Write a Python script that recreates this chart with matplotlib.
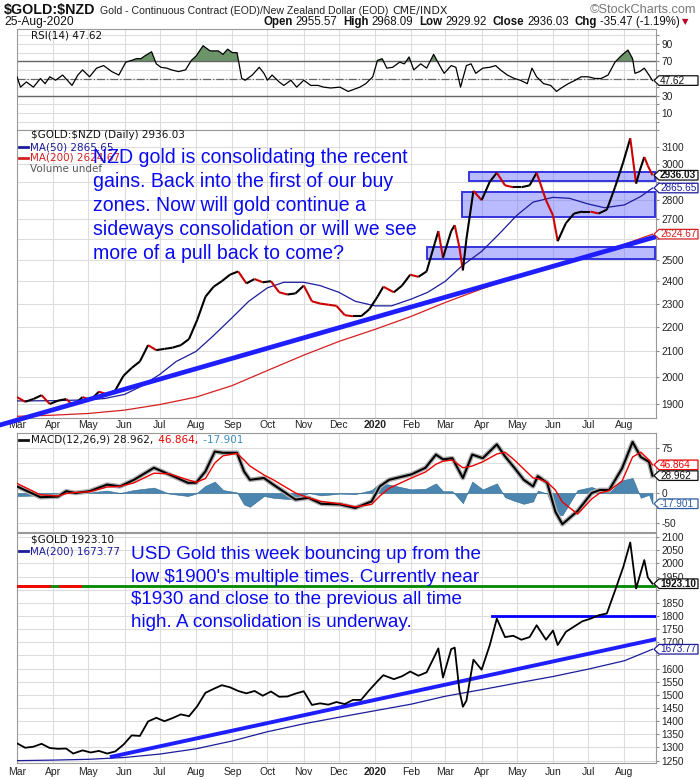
import matplotlib
matplotlib.use("Agg")
import matplotlib.pyplot as plt
import matplotlib.dates as mdates
import matplotlib.font_manager as fm
from matplotlib.patches import Polygon, Rectangle
from matplotlib.collections import LineCollection
from matplotlib.transforms import IdentityTransform, blended_transform_factory
from matplotlib.ticker import NullLocator
import numpy as np
import pandas as pd

W, H = 700, 780

# ---- price data (weekly-ish) ----
price_dates = [
    '2019-03-01', '2019-03-08', '2019-03-15', '2019-03-22', '2019-03-29',
    '2019-04-05', '2019-04-12', '2019-04-18', '2019-04-26',
    '2019-05-03', '2019-05-10', '2019-05-17', '2019-05-24', '2019-05-31',
    '2019-06-07', '2019-06-14', '2019-06-21', '2019-06-28',
    '2019-07-05', '2019-07-12', '2019-07-19', '2019-07-26',
    '2019-08-02', '2019-08-09', '2019-08-16', '2019-08-23', '2019-08-30',
    '2019-09-06', '2019-09-13', '2019-09-20', '2019-09-27',
    '2019-10-04', '2019-10-11', '2019-10-18', '2019-10-25',
    '2019-11-01', '2019-11-08', '2019-11-15', '2019-11-22', '2019-11-29',
    '2019-12-06', '2019-12-13', '2019-12-20', '2019-12-27',
    '2020-01-03', '2020-01-08', '2020-01-17', '2020-01-24', '2020-01-31',
    '2020-02-07', '2020-02-14', '2020-02-21', '2020-02-24', '2020-02-28',
    '2020-03-06', '2020-03-09', '2020-03-13', '2020-03-16', '2020-03-19', '2020-03-25',
    '2020-04-01', '2020-04-08', '2020-04-14', '2020-04-21', '2020-04-28',
    '2020-05-05', '2020-05-12', '2020-05-18', '2020-05-26',
    '2020-06-01', '2020-06-05', '2020-06-12', '2020-06-19', '2020-06-26',
    '2020-07-03', '2020-07-10', '2020-07-17', '2020-07-24', '2020-07-31',
    '2020-08-06', '2020-08-11', '2020-08-14', '2020-08-18', '2020-08-21', '2020-08-25']

nzd_close = [
    1925, 1908, 1918, 1932, 1900,
    1912, 1918, 1895, 1925,
    1915, 1945, 1935, 1950, 2005,
    2035, 2060, 2125, 2105,
    2110, 2115, 2125, 2150,
    2230, 2330, 2375, 2400, 2430,
    2445, 2390, 2410, 2395,
    2400, 2350, 2340, 2345,
    2380, 2310, 2300, 2295, 2290,
    2250, 2245, 2245, 2275,
    2330, 2375, 2350, 2380, 2430,
    2420, 2445, 2580, 2640, 2510,
    2640, 2670, 2560, 2450, 2600, 2850,
    2800, 2900, 2950, 2880, 2870,
    2870, 2880, 2950, 2800,
    2720, 2590, 2680, 2730, 2740,
    2740, 2730, 2750, 2870, 3010,
    3150, 2890, 2960, 3040, 2990, 2936.03]

usd_close = [
    1316, 1299, 1303, 1314, 1298,
    1295, 1296, 1277, 1289,
    1281, 1287, 1277, 1285, 1311,
    1346, 1344, 1399, 1413,
    1400, 1412, 1426, 1419,
    1457, 1508, 1523, 1537, 1529,
    1515, 1506, 1515, 1497,
    1513, 1493, 1494, 1505,
    1514, 1462, 1468, 1463, 1473,
    1465, 1481, 1481, 1518,
    1552, 1575, 1560, 1571, 1589,
    1573, 1586, 1649, 1677, 1566,
    1674, 1680, 1517, 1455, 1478, 1634,
    1596, 1690, 1790, 1720, 1725,
    1710, 1720, 1765, 1710,
    1745, 1690, 1740, 1760, 1780,
    1790, 1803, 1810, 1897, 1986,
    2080, 1905, 1951, 2013, 1947, 1923.10]

ma50_dates = ['2019-03-01', '2019-04-01', '2019-05-01', '2019-05-15', '2019-06-01', '2019-06-15',
              '2019-07-01', '2019-07-15', '2019-08-01', '2019-08-15', '2019-09-01', '2019-09-15',
              '2019-10-01', '2019-10-15', '2019-11-01', '2019-11-15', '2019-12-01', '2019-12-15',
              '2020-01-01', '2020-01-15', '2020-02-01', '2020-02-15', '2020-03-01', '2020-03-15',
              '2020-04-01', '2020-04-15', '2020-05-01', '2020-05-15', '2020-06-01', '2020-06-15',
              '2020-07-01', '2020-07-15', '2020-08-01', '2020-08-15', '2020-08-25']
nzd_ma50 = [1911, 1912, 1915, 1920, 1935, 1965,
            2010, 2060, 2100, 2160, 2240, 2310,
            2370, 2395, 2395, 2380, 2350, 2310,
            2290, 2290, 2320, 2350, 2400, 2470,
            2540, 2620, 2720, 2790, 2815, 2810,
            2780, 2760, 2775, 2820, 2865.65]

ma200_dates = ['2019-03-01', '2019-04-01', '2019-05-01', '2019-06-01', '2019-07-01', '2019-08-01',
               '2019-09-01', '2019-10-01', '2019-11-01', '2019-12-01', '2020-01-01', '2020-02-01',
               '2020-03-01', '2020-04-01', '2020-05-01', '2020-06-01', '2020-07-01', '2020-08-01',
               '2020-08-25']
nzd_ma200 = [1856, 1860, 1866, 1878, 1898, 1925, 1968, 2025, 2085, 2140, 2190, 2245,
             2305, 2365, 2420, 2470, 2515, 2575, 2624.67]
usd_ma200 = [1250, 1252, 1255, 1262, 1275, 1295, 1325, 1360, 1390, 1415, 1440, 1465,
             1495, 1520, 1545, 1570, 1598, 1630, 1673.77]

# ---- RSI(14) of $GOLD:$NZD ----
rsi_dates = [
    '2019-03-01', '2019-03-04', '2019-03-09', '2019-03-15', '2019-03-21', '2019-03-25', '2019-03-29',
    '2019-04-03', '2019-04-09', '2019-04-17', '2019-04-22', '2019-04-26', '2019-05-02', '2019-05-08',
    '2019-05-14', '2019-05-17', '2019-05-21', '2019-05-27', '2019-06-02', '2019-06-07', '2019-06-11',
    '2019-06-15', '2019-06-18', '2019-06-24', '2019-06-28', '2019-07-02', '2019-07-07', '2019-07-11',
    '2019-07-17', '2019-07-23', '2019-07-28', '2019-08-01', '2019-08-07', '2019-08-13', '2019-08-20',
    '2019-08-24', '2019-08-28', '2019-09-01', '2019-09-05', '2019-09-09', '2019-09-12', '2019-09-18',
    '2019-09-24', '2019-09-28', '2019-10-01', '2019-10-05', '2019-10-11', '2019-10-15', '2019-10-21',
    '2019-10-26', '2019-11-01', '2019-11-07', '2019-11-13', '2019-11-18', '2019-11-24', '2019-12-02',
    '2019-12-09', '2019-12-13', '2019-12-19', '2019-12-24', '2019-12-30', '2020-01-03', '2020-01-07',
    '2020-01-11', '2020-01-16', '2020-01-22', '2020-01-26', '2020-01-30', '2020-02-03', '2020-02-09',
    '2020-02-14', '2020-02-20', '2020-02-26', '2020-02-29', '2020-03-06', '2020-03-10', '2020-03-14',
    '2020-03-19', '2020-03-23', '2020-03-27', '2020-04-02', '2020-04-08', '2020-04-13', '2020-04-17',
    '2020-04-23', '2020-04-29', '2020-05-04', '2020-05-10', '2020-05-14', '2020-05-18', '2020-05-24',
    '2020-05-30', '2020-06-04', '2020-06-08', '2020-06-14', '2020-06-20', '2020-06-25', '2020-07-01',
    '2020-07-07', '2020-07-12', '2020-07-18', '2020-07-24', '2020-07-29', '2020-08-04', '2020-08-08',
    '2020-08-10', '2020-08-14', '2020-08-18', '2020-08-22', '2020-08-25']
rsi_vals = [
    52, 40, 46, 40, 50, 44, 52,
    48, 54, 42, 54, 60, 52, 62,
    65, 62, 58, 54, 69, 71, 73,
    73, 76, 81, 67, 63, 62, 60,
    58, 60, 71, 76, 88, 82, 82,
    78, 84, 80, 80, 50, 48, 54,
    63, 56, 48, 54, 46, 42, 48,
    40, 48, 42, 42, 40, 39, 40,
    35, 37, 40, 44, 52, 71, 73,
    62, 63, 69, 67, 75, 60, 67,
    62, 78, 63, 56, 65, 63, 40,
    65, 67, 56, 62, 63, 65, 60,
    54, 50, 48, 44, 62, 52, 44,
    42, 35, 39, 44, 48, 52, 52,
    50, 50, 54, 69, 76, 83, 73,
    56, 58, 62, 54, 47.62]

# ---- MACD(12,26,9) of $GOLD:$NZD ----
macd_dates = [
    '2019-03-01', '2019-03-21', '2019-04-05', '2019-04-12', '2019-04-20', '2019-05-02', '2019-05-17',
    '2019-05-28', '2019-06-09', '2019-06-26', '2019-07-09', '2019-07-25', '2019-08-01', '2019-08-09',
    '2019-08-17', '2019-08-24', '2019-09-05', '2019-09-11', '2019-09-16', '2019-09-28', '2019-10-06',
    '2019-10-25', '2019-11-05', '2019-11-16', '2019-12-02', '2019-12-15', '2019-12-29', '2020-01-05',
    '2020-01-13', '2020-02-01', '2020-02-13', '2020-02-22', '2020-02-28', '2020-03-07', '2020-03-16',
    '2020-03-24', '2020-04-02', '2020-04-14', '2020-04-21', '2020-04-29', '2020-05-07', '2020-05-15',
    '2020-05-19', '2020-05-27', '2020-06-03', '2020-06-09', '2020-06-22', '2020-07-04', '2020-07-11',
    '2020-07-19', '2020-07-30', '2020-08-08', '2020-08-15', '2020-08-22', '2020-08-25']
macd_line = [11, -7, -6, 3, 0, 3, 14, 11, 22, 42, 31, 17, 17, 36, 69, 67, 67, 36, 22, 25,
             14, -11, -8, -18, -19, -25, -14, 11, 22, 31, 42, 64, 56, 58, 25, 64, 58, 81, 61, 42,
             22, 11, 28, 17, -31, -52, -30, 0, 5, 5, 41, 85, 60, 52, 28.962]
macd_signal = [16, -3, -5, -1, 1, 2, 10, 11, 17, 33, 32, 22, 18, 24, 50, 62, 66, 55, 45, 30,
               22, 0, -8, -14, -18, -23, -19, -5, 8, 25, 35, 48, 53, 55, 42, 45, 52, 65, 68, 55,
               40, 25, 24, 18, 5, -15, -35, -10, 0, 4, 20, 60, 68, 55, 46.864]

# ---- drawn annotations ----
zone_starts = ['2020-03-21', '2020-03-15', '2020-02-14']
zone_ends = ['2020-08-27', '2020-08-27', '2020-08-27']
zone_lows = [2905, 2711, 2505]
zone_highs = [2957, 2844, 2562]
nzd_trend_dates = ['2019-02-14', '2020-08-28']
nzd_trend_vals = [1825, 2612]
usd_trend_dates = ['2019-05-21', '2020-08-28']
usd_trend_vals = [1265, 1712]
usd_res_dates = ['2020-04-10', '2020-08-28']
usd_res_level = 1800
usd_green_level = 1915
usd_red_spans = [('2019-03-01', '2019-03-28'), ('2019-04-07', '2019-04-14'), ('2019-04-16', '2019-04-24')]

nzd_note = ["NZD gold is consolidating the recent",
            "gains. Back into the first of our buy",
            "zones. Now will gold continue a",
            "sideways consolidation or will we see",
            "more of a pull back to come?"]
usd_note = ["USD Gold this week bouncing up from the",
            "low $1900's multiple times. Currently near",
            "$1930 and close to the previous all time",
            "high. A consolidation is underway."]

# ---- fonts ----
names = {f.name for f in fm.fontManager.ttflist}
SANS = 'Liberation Sans' if 'Liberation Sans' in names else 'DejaVu Sans'
NARROW = 'Liberation Sans Narrow' if 'Liberation Sans Narrow' in names else SANS
SMALL = 'DejaVu Sans'
plt.rcParams['font.family'] = [SANS, 'DejaVu Sans']

fig = plt.figure(figsize=(7, 7.8), dpi=100)
fig.patch.set_facecolor('white')
renderer = fig.canvas.get_renderer()


def px_rect(top, bottom, left=17, right=656):
    return [left / W, 1 - bottom / H, (right - left) / W, (bottom - top) / H]


def T(x, y, s, **kw):
    kw.setdefault('va', 'center')
    kw.setdefault('parse_math', False)
    return fig.text(x / W, 1 - y / H, s, **kw)


def measure(s, **kw):
    t = fig.text(0, 0, s, parse_math=False, **kw)
    w = t.get_window_extent(renderer).width
    t.remove()
    return w


def fit(s, width, **kw):
    return 10 * width / measure(s, fontsize=10, **kw)


def icon_line(x0, x1, y, color, lw=2):
    fig.add_artist(plt.Line2D([x0 / W, x1 / W], [1 - y / H, 1 - y / H],
                              transform=fig.transFigure, color=color, lw=lw))


ax_rsi = fig.add_axes(px_rect(29, 130))
ax_main = fig.add_axes(px_rect(130, 418))
ax_macd = fig.add_axes(px_rect(433, 532))
ax_usd = fig.add_axes(px_rect(533, 763))

months = pd.date_range('2019-03-01', '2020-08-01', freq='MS')
month_lbls = ['2020' if m.month == 1 else m.strftime('%b') for m in months]
xlo, xhi = pd.Timestamp('2019-03-01'), pd.Timestamp('2020-08-28')

for ax in (ax_rsi, ax_main, ax_macd, ax_usd):
    ax.set_xlim(xlo, xhi)
    ax.set_xticks(months)
    ax.set_xticklabels([])
    ax.grid(True, color='#dddddd', lw=0.8)
    ax.set_axisbelow(True)
    ax.yaxis.tick_right()
    ax.tick_params(axis='y', length=2.5, width=0.8, color='#888888', pad=1.5,
                   labelsize=7.3, labelcolor='#222222')
    ax.tick_params(axis='x', length=0, labelsize=7.5, labelcolor='#222222')
    for s in ax.spines.values():
        s.set_color('#999999')
        s.set_linewidth(0.8)

for ax, pad in ((ax_main, 1.5), (ax_usd, 3.0)):
    ax.set_xticklabels(month_lbls)
    ax.tick_params(axis='x', pad=pad)
    for lbl in ax.get_xticklabels():
        if lbl.get_text() == '2020':
            lbl.set_fontweight('bold')


def labels_except(ticks, hidden):
    return ['' if t in hidden else str(t) for t in ticks]


# ---- RSI panel ----
rd = pd.to_datetime(rsi_dates)
rv = np.array(rsi_vals, dtype=float)
ax_rsi.fill_between(rd, 70, rv, where=rv > 70, interpolate=True, color='#6b9468', lw=0, zorder=2)
ax_rsi.plot(rd, rv, color='black', lw=0.9, zorder=3)
ax_rsi.axhline(70, color='#666666', lw=1)
ax_rsi.axhline(30, color='#666666', lw=1)
ax_rsi.axhline(50, color='#666666', lw=0.9, ls='-.')
ax_rsi.set_ylim(-9.7, 107.4)
rsi_ticks = list(range(0, 101, 10))
ax_rsi.set_yticks(rsi_ticks)
ax_rsi.set_yticklabels(labels_except(rsi_ticks, {0, 20, 40, 50, 60, 80, 100}))

# ---- main NZD panel ----
ax_main.set_yscale('log')
ax_main.set_ylim(1850, 3200)
main_ticks = list(range(1900, 3201, 100))
ax_main.set_yticks(main_ticks)
ax_main.set_yticklabels(labels_except(main_ticks, {2600, 2900, 3200}))
ax_main.yaxis.set_minor_locator(NullLocator())

for s0, s1, lo, hi in zip(zone_starts, zone_ends, zone_lows, zone_highs):
    a, b = mdates.date2num(pd.Timestamp(s0)), mdates.date2num(pd.Timestamp(s1))
    ax_main.add_patch(Rectangle((a, lo), b - a, hi - lo, fc=(0.4, 0.4, 1.0, 0.45),
                                ec='#3434e0', lw=1.4, zorder=3))

ax_main.plot(pd.to_datetime(ma200_dates), nzd_ma200, color='#d42020', lw=0.9, zorder=3)
ax_main.plot(pd.to_datetime(ma50_dates), nzd_ma50, color='#1c1c9c', lw=0.9, zorder=3)

px = mdates.date2num(pd.to_datetime(price_dates).to_numpy())
pts = np.column_stack([px, nzd_close])
segs = np.stack([pts[:-1], pts[1:]], axis=1)
cols = ['#cc0000' if b < a else 'black' for a, b in zip(nzd_close[:-1], nzd_close[1:])]
ax_main.add_collection(LineCollection(segs, colors=cols, linewidths=1.5, zorder=4))

ax_main.plot(pd.to_datetime(nzd_trend_dates), nzd_trend_vals, color='#1e1eff', lw=3.4,
             clip_on=False, zorder=5, solid_capstyle='butt')

# ---- MACD panel ----
md = pd.to_datetime(macd_dates)
hist = np.array(macd_line) - np.array(macd_signal)
ax_macd.fill_between(md, 0, hist, color='#4a86b0', ec='#2f6a94', lw=0.4, zorder=2)
ax_macd.plot(md, macd_line, color='#b0b0b0', lw=3.4, zorder=3)
ax_macd.plot(md, macd_line, color='black', lw=1.5, zorder=4)
ax_macd.plot(md, macd_signal, color='#ee0000', lw=1.0, zorder=5)
ax_macd.set_ylim(-65, 100)
macd_ticks = [-50, -25, 0, 25, 50, 75]
ax_macd.set_yticks(macd_ticks)
ax_macd.set_yticklabels(labels_except(macd_ticks, {-25, 25, 50}))

# ---- USD gold panel ----
ax_usd.set_ylim(1241, 2116)
usd_ticks = list(range(1250, 2101, 50))
ax_usd.set_yticks(usd_ticks)
ax_usd.set_yticklabels(labels_except(usd_ticks, {1900, 1650}))
ax_usd.axhline(usd_green_level, color='#008800', lw=2, zorder=3)
for a, b in usd_red_spans:
    ax_usd.plot(pd.to_datetime([a, b]), [usd_green_level] * 2, color='#ff0000', lw=2, zorder=3)
ax_usd.plot(pd.to_datetime(usd_res_dates), [usd_res_level] * 2, color='#0000ff', lw=2, zorder=3)
ax_usd.plot(pd.to_datetime(ma200_dates), usd_ma200, color='#1c1c9c', lw=0.9, zorder=3)
ax_usd.plot(pd.to_datetime(usd_trend_dates), usd_trend_vals, color='#1e1eff', lw=2.8, zorder=4)
ax_usd.plot(pd.to_datetime(price_dates), usd_close, color='black', lw=1.3, zorder=5)


# ---- value tags on the right ----
def tag(ax, val, txt, color, bold=False):
    tr = blended_transform_factory(ax.transAxes, ax.transData)
    xr, yd = tr.transform((1.0, val))
    h = 4.8
    poly = [(xr - 2, yd), (xr + 3, yd + h), (xr + 42, yd + h), (xr + 42, yd - h), (xr + 3, yd - h)]
    fig.add_artist(Polygon(poly, closed=True, transform=IdentityTransform(), fc='white',
                           ec=color, lw=0.9, zorder=10))
    fig.text(xr + 4, yd, txt, transform=IdentityTransform(), ha='left', va='center',
             fontsize=7.2, color=color, fontweight='bold' if bold else 'normal', zorder=11)


tag(ax_rsi, rsi_vals[-1], '47.62', '#111111')
tag(ax_main, nzd_close[-1], '2936.03', '#111111', bold=True)
tag(ax_main, nzd_ma50[-1], '2865.65', '#1c1c9c')
tag(ax_main, nzd_ma200[-1], '2624.67', '#d42020')
tag(ax_macd, macd_signal[-1], '46.864', '#ee0000')
tag(ax_macd, macd_line[-1], '28.962', '#111111')
tag(ax_macd, hist[-1], '-17.901', '#2f5fa0')
tag(ax_usd, usd_close[-1], '1923.10', '#111111', bold=True)
tag(ax_usd, usd_ma200[-1], '1673.77', '#1c1c9c')

# ---- header ----
hs = fit('$GOLD:$NZD', 91, family=NARROW, fontweight='bold')
T(4, 10, '$GOLD:$NZD', family=NARROW, fontweight='bold', fontsize=hs, color='#111111')
sub = 'Gold - Continuous Contract (EOD)/New Zealand Dollar (EOD)'
T(100, 11, sub, family=NARROW, fontsize=fit(sub, 288, family=NARROW), color='#222222')
T(392, 11, 'CME/INDX', family=SMALL, fontsize=fit('CME/INDX', 55, family=SMALL), color='#222222')
sc = '\u00a9StockCharts.com'
T(590, 10, sc, family=[SANS, 'DejaVu Sans'], fontsize=fit(sc, 107, family=[SANS, 'DejaVu Sans']),
  color='#777777')
T(4, 22, '25-Aug-2020', family=NARROW, fontsize=fit('25-Aug-2020', 70, family=NARROW), color='#111111')

row = [('Open', True), ('2955.57', False), ('High', True), ('2968.09', False), ('Low', True),
       ('2929.92', False), ('Close', True), ('2936.03', False), ('Chg', True), ('-35.47 (-1.19%)', False)]
gaps = [3 if b else 6 for _, b in row][:-1]
raw = sum(measure(s, fontsize=10, family=NARROW, fontweight='bold' if b else 'normal') for s, b in row)
rs = 10 * (417 - sum(gaps)) / raw
x = 263
for i, (s, b) in enumerate(row):
    t = T(x, 22, s, family=NARROW, fontsize=rs, fontweight='bold' if b else 'normal', color='#111111')
    x += t.get_window_extent(renderer).width + (gaps[i] if i < len(gaps) else 0)
T(x + 2, 22, '\u25bc', family='DejaVu Sans', fontsize=6, color='#bb0022')

# ---- panel legends ----
LS = 7.5
T(31, 35, 'RSI(14) 47.62', family=SMALL, fontsize=LS, color='#111111')
T(31, 135, '$GOLD:$NZD (Daily) 2936.03', family=SMALL, fontsize=LS, color='#111111')
icon_line(19, 28, 147, '#1c1c9c')
T(30, 147, 'MA(50) 2865.65', family=SMALL, fontsize=LS, color='#1c1c9c')
icon_line(19, 28, 158, '#d42020')
T(30, 158, 'MA(200) 2624.67', family=SMALL, fontsize=LS, color='#d42020')
T(30, 169, 'Volume undef', family=SMALL, fontsize=LS, color='#555555')

icon_line(19, 28, 440, '#111111')
x = 31
for s, c in (('MACD(12,26,9) 28.962,', '#111111'), (' 46.864,', '#ee0000'), (' -17.901', '#3d8cc0')):
    t = T(x, 440, s, family=SMALL, fontsize=LS, color=c)
    x += t.get_window_extent(renderer).width + 2

T(31, 540, '$GOLD 1923.10', family=SMALL, fontsize=LS, color='#111111')
icon_line(19, 28, 551, '#1c1c9c')
T(30, 551, 'MA(200) 1673.77', family=SMALL, fontsize=LS, color='#1c1c9c')

# ---- chart notes ----
ns = fit(nzd_note[0], 315, family=SANS)
for i, line in enumerate(nzd_note):
    T(93, 163 + 24 * i, line, family=SANS, fontsize=ns, color='#0a0af0', va='baseline', zorder=12)
us = fit(usd_note[0], 352, family=SANS)
for i, line in enumerate(usd_note):
    T(131, 559 + 22.6 * i, line, family=SANS, fontsize=us, color='#0a0af0', va='baseline', zorder=12)

fig.savefig('out.png', dpi=100, facecolor='white')
